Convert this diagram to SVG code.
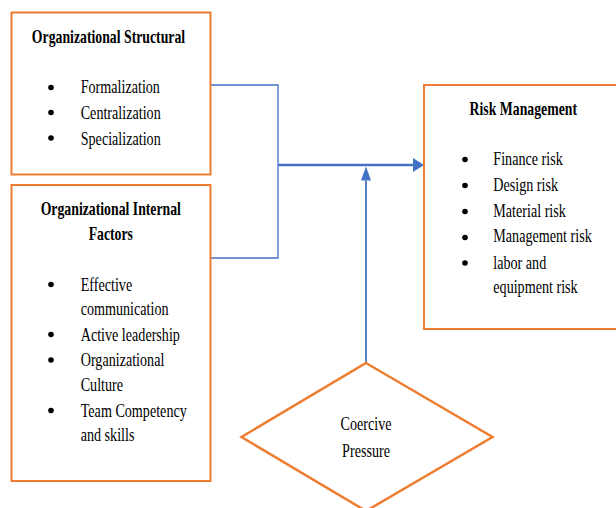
<svg xmlns="http://www.w3.org/2000/svg" width="616" height="508" viewBox="0 0 616 508">
<style>
.box{fill:#fff;stroke:#ED7D31;stroke-width:2}
.t{font-family:"Liberation Serif","Times New Roman",serif;font-size:18px;fill:#000}
.b{font-weight:bold;text-anchor:middle}
.dot{fill:#000}
.thin{fill:none;stroke:#4472C4;stroke-width:1.3}
.thick{fill:none;stroke:#4472C4;stroke-width:2.6}
.mid{fill:none;stroke:#4472C4;stroke-width:1.8}
</style>
<defs>
<marker id="ah" markerUnits="userSpaceOnUse" viewBox="0 0 11 14" markerWidth="11" markerHeight="14" refX="0" refY="7" orient="auto">
<path d="M0,0 L11,7 L0,14 z" fill="#4472C4"/>
</marker>
<marker id="av" markerUnits="userSpaceOnUse" viewBox="0 0 14 10" markerWidth="14" markerHeight="10" refX="0" refY="5" orient="auto">
<path d="M0,0 L14,5 L0,10 z" fill="#4472C4"/>
</marker>
</defs>
<rect width="616" height="508" fill="#fff"/>

<g id="connectors">
<path class="thin" d="M211,85 H278 V258 H211"/>
<path class="thick" d="M278,165 H413" marker-end="url(#ah)"/>
<path class="mid" d="M366,363 V180.5" marker-end="url(#av)"/>
</g>

<g id="organizational-structural">
<rect class="box" x="11.5" y="12.5" width="199" height="162"/>
<text class="t b" transform="translate(108.5,43) scale(0.765,1)">Organizational Structural</text>
<circle class="dot" cx="51" cy="87.5" r="2.8"/>
<circle class="dot" cx="51" cy="112.5" r="2.8"/>
<circle class="dot" cx="51" cy="138" r="2.8"/>
<text class="t" transform="translate(80.7,93.3) scale(0.785,1)">Formalization</text>
<text class="t" transform="translate(80.7,119) scale(0.785,1)">Centralization</text>
<text class="t" transform="translate(80.7,144.5) scale(0.785,1)">Specialization</text>
</g>

<g id="organizational-internal-factors">
<rect class="box" x="11.5" y="185" width="199" height="296"/>
<text class="t b" transform="translate(110.8,215) scale(0.765,1)">Organizational Internal</text>
<text class="t b" transform="translate(110.8,240) scale(0.765,1)">Factors</text>
<circle class="dot" cx="51" cy="284.5" r="2.8"/>
<circle class="dot" cx="51" cy="334.5" r="2.8"/>
<circle class="dot" cx="51" cy="360" r="2.8"/>
<circle class="dot" cx="51" cy="410.5" r="2.8"/>
<text class="t" transform="translate(80.7,290.5) scale(0.785,1)">Effective</text>
<text class="t" transform="translate(80.7,315) scale(0.785,1)">communication</text>
<text class="t" transform="translate(80.7,340.5) scale(0.785,1)">Active leadership</text>
<text class="t" transform="translate(80.7,366) scale(0.785,1)">Organizational</text>
<text class="t" transform="translate(80.7,390.5) scale(0.785,1)">Culture</text>
<text class="t" transform="translate(80.7,416.5) scale(0.785,1)">Team Competency</text>
<text class="t" transform="translate(80.7,440.5) scale(0.785,1)">and skills</text>
</g>

<g id="risk-management">
<rect class="box" x="424" y="85" width="196" height="244"/>
<text class="t b" transform="translate(523.3,115) scale(0.765,1)">Risk Management</text>
<circle class="dot" cx="465" cy="159.5" r="2.8"/>
<circle class="dot" cx="465" cy="185.5" r="2.8"/>
<circle class="dot" cx="465" cy="211.5" r="2.8"/>
<circle class="dot" cx="465" cy="237.5" r="2.8"/>
<circle class="dot" cx="465" cy="263" r="2.8"/>
<text class="t" transform="translate(493.3,165) scale(0.785,1)">Finance risk</text>
<text class="t" transform="translate(493.3,191) scale(0.785,1)">Design risk</text>
<text class="t" transform="translate(493.3,216.5) scale(0.785,1)">Material risk</text>
<text class="t" transform="translate(493.3,242.3) scale(0.785,1)">Management risk</text>
<text class="t" transform="translate(493.3,268.5) scale(0.785,1)">labor and</text>
<text class="t" transform="translate(493.3,293) scale(0.785,1)">equipment risk</text>
</g>

<g id="coercive-pressure">
<polygon points="366,363 492.5,437 366,511 241.5,437" fill="#fff" stroke="#ED7D31" stroke-width="2.5"/>
<text class="t" text-anchor="middle" transform="translate(366,430) scale(0.785,1)">Coercive</text>
<text class="t" text-anchor="middle" transform="translate(366,457.3) scale(0.785,1)">Pressure</text>
</g>
</svg>
